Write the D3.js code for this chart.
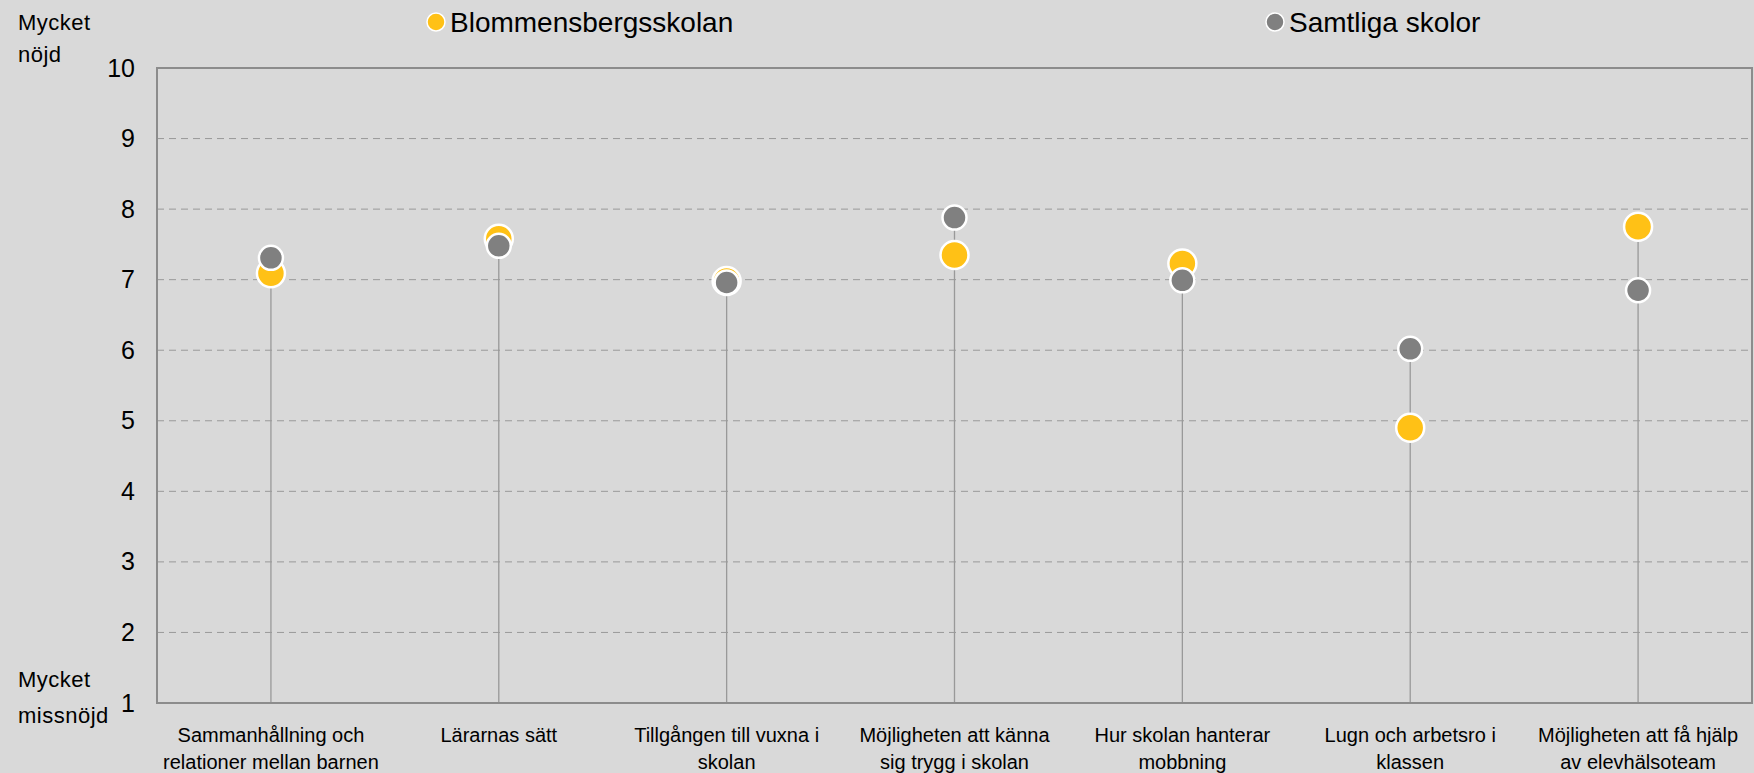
<!DOCTYPE html>
<html>
<head>
<meta charset="utf-8">
<script src="https://cdn.jsdelivr.net/npm/d3@7"></script>
<style>
  body { margin: 0; background: #d9d9d9; }
  svg { display: block; font-family: 'Liberation Sans', Arial, sans-serif; }
</style>
</head>
<body>
<div id="chart"></div>
<script>
const categories = [
  ['Sammanhållning och', 'relationer mellan barnen'],
  ['Lärarnas sätt'],
  ['Tillgången till vuxna i', 'skolan'],
  ['Möjligheten att känna', 'sig trygg i skolan'],
  ['Hur skolan hanterar', 'mobbning'],
  ['Lugn och arbetsro i', 'klassen'],
  ['Möjligheten att få hjälp', 'av elevhälsoteam']
]
const skolan = [7.09, 7.58, 6.98, 7.35, 7.23, 4.90, 7.75]
const samtliga = [7.31, 7.48, 6.96, 7.88, 6.99, 6.02, 6.85]
const yTicks = [1, 2, 3, 4, 5, 6, 7, 8, 9, 10]
const seriesNames = ['Blommensbergsskolan', 'Samtliga skolor']

const width = 1754
const height = 773
const margin = { top: 68, right: 2, bottom: 70, left: 157 }
const yellow = '#ffc116'
const grey = '#808080'

const svg = d3.select('#chart')
  .append('svg')
  .attr('width', width)
  .attr('height', height)

svg.append('rect')
  .attr('width', width)
  .attr('height', height)
  .attr('fill', '#d9d9d9')

const x = d3.scaleBand()
  .domain(d3.range(categories.length))
  .range([margin.left, width - margin.right])

const y = d3.scaleLinear()
  .domain([1, 10])
  .range([height - margin.bottom, margin.top])

// rutnät
svg.append('g')
  .selectAll('line')
  .data(yTicks.filter(d => d > 1 && d < 10))
  .join('line')
  .attr('x1', margin.left)
  .attr('x2', width - margin.right)
  .attr('y1', d => y(d))
  .attr('y2', d => y(d))
  .attr('stroke', '#999')
  .attr('stroke-width', 1)
  .attr('stroke-dasharray', '7,5')

// y-axel etiketter
svg.append('g')
  .attr('transform', `translate(${margin.left - 22},0)`)
  .call(d3.axisLeft(y).tickValues(yTicks).tickSize(0).tickPadding(0))
  .call(g => g.select('.domain').remove())
  .selectAll('text')
  .attr('font-size', '25px')
  .attr('fill', '#000')
  .attr('font-family', 'Liberation Sans, Arial, sans-serif')

// stolpar
svg.append('g')
  .selectAll('line')
  .data(d3.range(categories.length))
  .join('line')
  .attr('x1', i => x(i) + x.bandwidth() / 2)
  .attr('x2', i => x(i) + x.bandwidth() / 2)
  .attr('y1', y(1))
  .attr('y2', i => y(Math.max(skolan[i], samtliga[i])))
  .attr('stroke', '#999')
  .attr('stroke-width', 1.3)

// ram
svg.append('rect')
  .attr('x', margin.left)
  .attr('y', margin.top)
  .attr('width', width - margin.right - margin.left)
  .attr('height', y(1) - margin.top)
  .attr('fill', 'none')
  .attr('stroke', '#8c8c8c')
  .attr('stroke-width', 2)

// punkter
svg.append('g')
  .selectAll('circle')
  .data(skolan)
  .join('circle')
  .attr('cx', (d, i) => x(i) + x.bandwidth() / 2)
  .attr('cy', d => y(d))
  .attr('r', 14)
  .attr('fill', yellow)
  .attr('stroke', '#fff')
  .attr('stroke-width', 2.5)

svg.append('g')
  .selectAll('circle')
  .data(samtliga)
  .join('circle')
  .attr('cx', (d, i) => x(i) + x.bandwidth() / 2)
  .attr('cy', d => y(d))
  .attr('r', 12)
  .attr('fill', grey)
  .attr('stroke', '#fff')
  .attr('stroke-width', 2.5)

// kategorietiketter
const xl = svg.append('g')
  .selectAll('text')
  .data(categories)
  .join('text')
  .attr('text-anchor', 'middle')
  .attr('font-size', '20px')
  .attr('fill', '#000')
  .attr('transform', (d, i) => `translate(${x(i) + x.bandwidth() / 2},${y(1) + 38.5})`)

xl.selectAll('tspan')
  .data(d => d)
  .join('tspan')
  .attr('x', 0)
  .attr('dy', (d, i) => i === 0 ? 0 : 27)
  .text(d => d)

// ändpunkter på skalan
svg.append('text')
  .attr('y', 30)
  .attr('font-size', '22px')
  .attr('letter-spacing', '0.5px')
  .selectAll('tspan')
  .data(['Mycket', 'nöjd'])
  .join('tspan')
  .attr('x', 18)
  .attr('dy', (d, i) => i === 0 ? 0 : 32)
  .text(d => d)

svg.append('text')
  .attr('y', 687)
  .attr('font-size', '22px')
  .attr('letter-spacing', '0.5px')
  .selectAll('tspan')
  .data(['Mycket', 'missnöjd'])
  .join('tspan')
  .attr('x', 18)
  .attr('dy', (d, i) => i === 0 ? 0 : 36)
  .text(d => d)

// legend
const legendX = [436, 1275]
const legend = svg.append('g')
  .selectAll('g')
  .data(seriesNames)
  .join('g')
  .attr('transform', (d, i) => `translate(${legendX[i]},22)`)

legend.append('circle')
  .attr('r', 9)
  .attr('fill', (d, i) => i === 0 ? yellow : grey)
  .attr('stroke', '#fff')
  .attr('stroke-width', 1.5)

legend.append('text')
  .attr('x', 14)
  .attr('dy', '0.35em')
  .attr('font-size', '28px')
  .text(d => d)
</script>
</body>
</html>
